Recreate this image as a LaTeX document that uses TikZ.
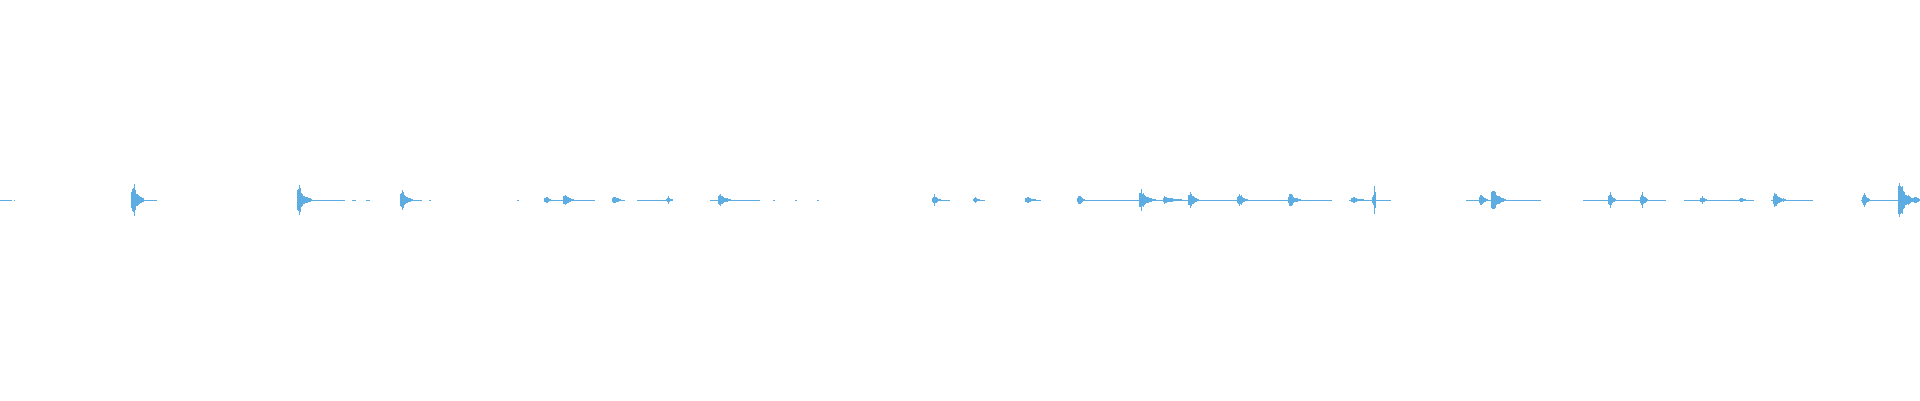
\documentclass[tikz,border=0pt]{standalone}
\usepackage{xcolor}
\definecolor{wave}{HTML}{5DADE2}

% one burst of the signal: position, peak amplitude, decay length
\newcommand{\burst}[3]{%
    \foreach \k in {-2,...,#3} {
        \pgfmathsetmacro{\amp}{#2*exp(-abs(\k)/(#3/4+1))*(0.55+0.45*rnd)+0.8}
        \draw (#1+\k, 200-\amp) -- (#1+\k, 200+\amp);
    }%
}

\begin{document}
\begin{tikzpicture}[%
        x = 1pt,
        y = 1pt,
        line width = 1pt,
        wave
    ]
        \pgfmathsetseed{42}
        \useasboundingbox (0,0) rectangle (1920,400);

        % quiet stretches of the trace
        \foreach \a/\b in {0/12, 14/15, 133/157, 299/345, 352/356, 366/370,
                           402/422, 429/431, 517/519, 546/595, 614/625,
                           637/673, 710/760, 773/775, 795/797, 817/819,
                           934/950, 973/985, 1025/1041, 1079/1332,
                           1349/1391, 1466/1541, 1583/1666, 1684/1754,
                           1771/1813, 1861/1920} {
            \draw (\a,200) -- (\b,200);
        }

        % bursts
        \burst{133}{20}{10}
        \burst{299}{16}{12}
        \burst{402}{12}{10}
        \burst{546}{4}{4}
        \burst{565}{6}{8}
        \burst{614}{4}{6}
        \burst{668}{3}{4}
        \burst{720}{6}{10}
        \burst{934}{5}{6}
        \burst{975}{2}{4}
        \burst{1027}{3}{8}
        \burst{1079}{6}{5}
        \burst{1141}{11}{14}
        \burst{1165}{4}{16}
        \burst{1190}{8}{8}
        \burst{1239}{8}{8}
        \burst{1290}{7}{10}
        \burst{1353}{3}{10}
        \burst{1374}{16}{1}
        \burst{1481}{6}{6}
        \burst{1493}{13}{12}
        \burst{1610}{8}{5}
        \burst{1642}{9}{5}
        \burst{1702}{3}{4}
        \burst{1741}{2}{4}
        \burst{1775}{8}{10}
        \burst{1864}{8}{5}
        \burst{1900}{22}{14}
        \burst{1915}{4}{5}
\end{tikzpicture}
\end{document}
